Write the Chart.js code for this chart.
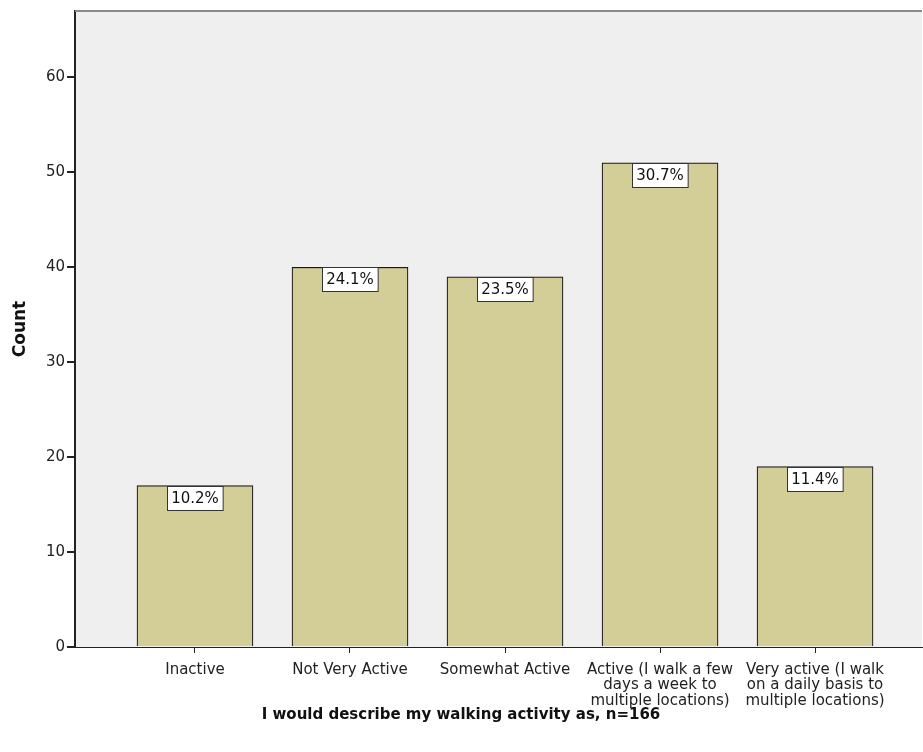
<!DOCTYPE html>
<html>
<head>
<meta charset="utf-8">
<script src="https://cdn.jsdelivr.net/npm/chart.js@4/dist/chart.umd.min.js"></script>
<style>
  html, body { margin: 0; padding: 0; background: #fff; }
  #wrap { width: 923px; height: 752px; }
</style>
</head>
<body>
<div id="wrap"><canvas id="chart1" width="923" height="752"></canvas></div>
<script>
// data
const categories = ["Inactive", "Not Very Active", "Somewhat Active", "Active (I walk a few days a week to multiple locations)", "Very active (I walk on a daily basis to multiple locations)"]
const tickLabels = [
    ["Inactive"],
    ["Not Very Active"],
    ["Somewhat Active"],
    ["Active (I walk a few", "days a week to", "multiple locations)"],
    ["Very active (I walk", "on a daily basis to", "multiple locations)"]
]
const counts = [17, 40, 39, 51, 19]
const percents = ["10.2%", "24.1%", "23.5%", "30.7%", "11.4%"]
const yTicks = [0, 10, 20, 30, 40, 50, 60]

const ctx = document.getElementById("chart1").getContext("2d")

// plot background + gray top edge
const plotBg = {
    id: "plotBg",
    beforeDraw(chart) {
        const a = chart.chartArea
        const c = chart.ctx
        c.save()
        c.fillStyle = "#efefef"
        c.fillRect(a.left, a.top, a.right - a.left, a.bottom - a.top)
        c.restore()
    },
    afterDraw(chart) {
        const a = chart.chartArea
        const c = chart.ctx
        c.save()
        c.strokeStyle = "#8a8a8a"
        c.lineWidth = 2
        c.beginPath()
        c.moveTo(a.left, a.top)
        c.lineTo(a.right, a.top)
        c.stroke()
        c.restore()
    }
}

// white percentage boxes on top of each bar
const pctLabels = {
    id: "pctLabels",
    afterDatasetsDraw(chart) {
        const c = chart.ctx
        const meta = chart.getDatasetMeta(0)
        c.save()
        c.font = "15px 'DejaVu Sans'"
        c.textAlign = "center"
        c.textBaseline = "middle"
        meta.data.forEach((bar, i) => {
            const txt = percents[i]
            const w = c.measureText(txt).width + 8
            const h = 24
            const x = Math.round(bar.x - w / 2) + 0.5
            const y = Math.round(bar.y) + 0.5
            c.fillStyle = "#fff"
            c.fillRect(x, y, w, h)
            c.strokeStyle = "#333"
            c.lineWidth = 1
            c.strokeRect(x, y, w, h)
            c.fillStyle = "#111"
            c.fillText(txt, bar.x, y + h / 2 + 1)
        })
        c.restore()
    }
}

const chart = new Chart(ctx, {
    type: "bar",
    data: {
        datasets: [{
            label: "Count",
            data: counts.map((v, i) => ({ x: i, y: v })),
            backgroundColor: "#d3ce97",
            borderColor: "#1a1a1a",
            borderWidth: 1.2,
            barThickness: 116
        }]
    },
    options: {
        responsive: false,
        animation: false,
        layout: { padding: { top: 10, right: 1, left: 0, bottom: 0 } },
        plugins: {
            legend: { display: false },
            tooltip: { enabled: false },
            title: {
                display: true,
                position: "bottom",
                text: "I would describe my walking activity as, n=166",
                color: "#111",
                font: { family: "'DejaVu Sans'", size: 15, weight: "bold", lineHeight: 0.6 },
                padding: { top: 1, bottom: 32 }
            }
        },
        scales: {
            x: {
                type: "linear",
                offset: false,
                min: -0.774,
                max: 4.69,
                afterBuildTicks(scale) {
                    scale.ticks = categories.map((_, i) => ({ value: i }))
                },
                afterFit(scale) { scale.height = 63 },
                ticks: {
                    autoSkip: false,
                    maxRotation: 0,
                    padding: 9,
                    color: "#222",
                    font: { family: "'DejaVu Sans'", size: 15, lineHeight: 1.03 },
                    callback: (v) => tickLabels[v]
                },
                grid: { offset: false, drawOnChartArea: false, tickLength: 6, color: "#222", lineWidth: 1 },
                border: { color: "#222", width: 1 },
                title: { display: false }
            },
            y: {
                min: 0,
                max: 67,
                afterBuildTicks(scale) {
                    scale.ticks = yTicks.map(v => ({ value: v }))
                },
                afterFit(scale) { scale.width = 75 },
                ticks: {
                    color: "#222",
                    padding: 2,
                    font: { family: "'DejaVu Sans'", size: 15 }
                },
                grid: { drawOnChartArea: false, tickLength: 8, color: "#222", lineWidth: 2 },
                border: { color: "#222", width: 2 },
                title: {
                    display: true,
                    text: "Count",
                    color: "#111",
                    font: { family: "'DejaVu Sans'", size: 17, weight: "bold" },
                    padding: { top: 10, bottom: 0 }
                }
            }
        }
    },
    plugins: [plotBg, pctLabels]
})
</script>
</body>
</html>
